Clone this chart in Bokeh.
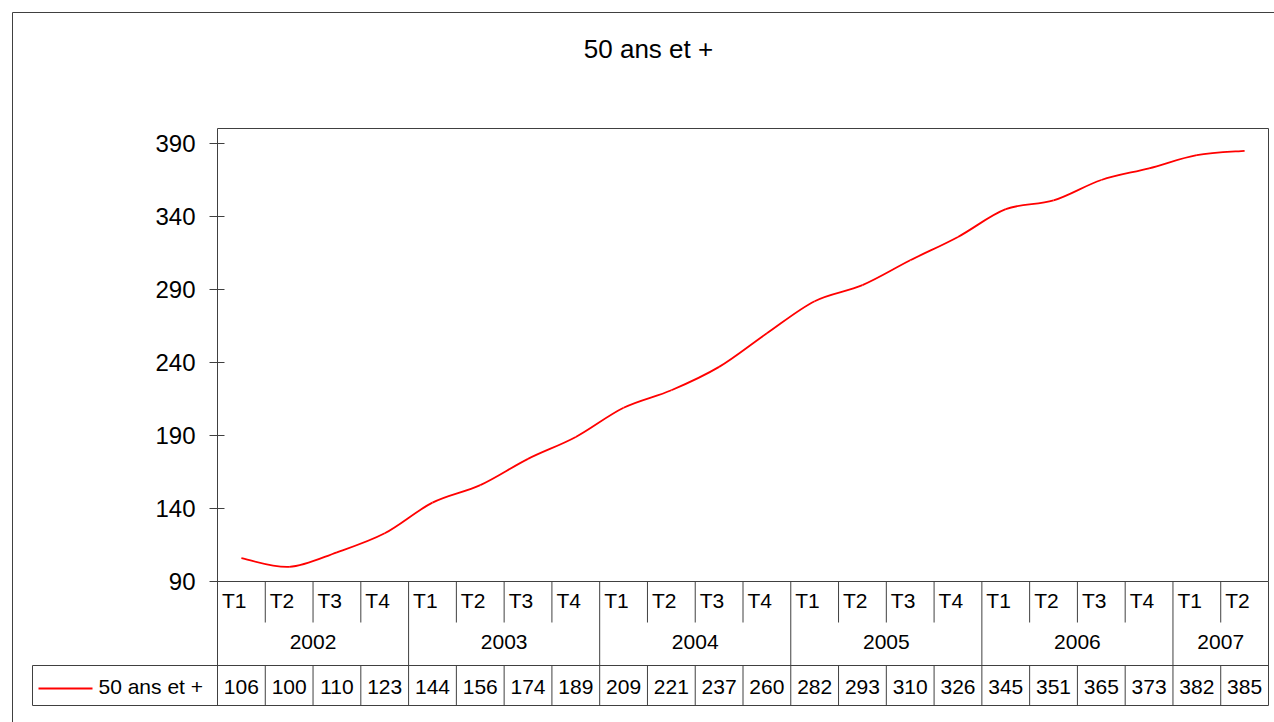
import numpy as np
from bokeh.plotting import figure
from bokeh.models import Range1d, ColumnDataSource
from bokeh.core.properties import value
from bokeh.embed import file_html
from bokeh.resources import INLINE

# ---------------- data ----------------
title_text = "50 ans et +"
series_name = "50 ans et +"
years = ["2002", "2003", "2004", "2005", "2006", "2007"]
quarters_per_year = [4, 4, 4, 4, 4, 2]
quarter_labels = ["T1", "T2", "T3", "T4"] * 5 + ["T1", "T2"]
values = [106, 100, 110, 123, 144, 156, 174, 189, 209, 221, 237,
          260, 282, 293, 310, 326, 345, 351, 365, 373, 382, 385]
y_ticks = [90, 140, 190, 240, 290, 340, 390]

# ---------------- layout (page pixels) ----------------
FONT = "Liberation Sans"
W, H = 1274, 722
PL, PR, PT, PB = 217, 1268, 128, 581          # plot area
N = len(values)
YMIN = 90
YMAX = YMIN + (PB - PT) * 300.0 / (PB - 143)  # 390 sits at 143 px
LINE = "#404040"
RED = "#ff0000"


def xd(px):
    return (px - PL) / (PR - PL) * N


def yd(py):
    return YMIN + (PB - py) / (PB - PT) * (YMAX - YMIN)


# one frame covering the whole canvas; all coordinates go through its scales
p = figure(width=W, height=H, output_backend="svg", toolbar_location=None,
           x_range=Range1d(xd(0), xd(W)), y_range=Range1d(yd(H), yd(0)),
           x_axis_location=None, y_axis_location=None, min_border=0, title=None)
p.grid.visible = False
p.outline_line_color = None
p.background_fill_color = "white"
p.border_fill_color = "white"

# plot area frame
p.quad(left=[0], right=[N], bottom=[YMIN], top=[YMAX],
       fill_color=None, line_color=LINE, line_width=1)

# value axis: ticks + labels
p.segment(x0=[xd(209)] * len(y_ticks), x1=[xd(224)] * len(y_ticks),
          y0=y_ticks, y1=y_ticks, line_color=LINE, line_width=1)
p.text(x=[xd(195)] * len(y_ticks), y=y_ticks, text=[str(t) for t in y_ticks],
       text_align="right", text_baseline="middle", text_font=value(FONT),
       text_font_size=value("24px"), text_color="black")

# title
p.text(x=[xd(648)], y=[yd(48)], text=[title_text], text_align="center",
       text_baseline="middle", text_font=value(FONT),
       text_font_size=value("26px"), text_color="black")

# ---------------- smoothed series (Bezier through the quarterly points) ----------------
x = np.arange(N) + 0.5
y = np.array(values, dtype=float)
xp = np.concatenate([[x[0]], x, [x[-1]]])
yp = np.concatenate([[y[0]], y, [y[-1]]])
seg = ColumnDataSource(dict(
    x0=x[:-1], y0=y[:-1], x1=x[1:], y1=y[1:],
    cx0=x[:-1] + (xp[2:-1] - xp[0:-3]) / 6.0,
    cy0=y[:-1] + (yp[2:-1] - yp[0:-3]) / 6.0,
    cx1=x[1:] - (xp[3:] - xp[1:-2]) / 6.0,
    cy1=y[1:] - (yp[3:] - yp[1:-2]) / 6.0,
))
p.bezier(x0="x0", y0="y0", x1="x1", y1="y1", cx0="cx0", cy0="cy0",
         cx1="cx1", cy1="cy1", source=seg, line_color=RED, line_width=1.8)

# ---------------- data table ----------------
year_starts = [int(v) for v in np.cumsum([0] + quarters_per_year)]
lines = dict(x0=[], y0=[], x1=[], y1=[])


def add(a, b, c, d):
    lines["x0"].append(a)
    lines["y0"].append(b)
    lines["x1"].append(c)
    lines["y1"].append(d)


for k in range(0, N + 1):
    if k in year_starts:
        add(k, yd(581), k, yd(705))
    else:
        add(k, yd(581), k, yd(622))
        add(k, yd(665), k, yd(705))
add(xd(32), yd(665), N, yd(665))
add(xd(32), yd(705), N, yd(705))
add(xd(32), yd(665), xd(32), yd(705))
# outer chart area border
add(xd(12), yd(12), xd(12), yd(H + 5))
add(xd(12), yd(12), xd(W + 5), yd(12))
p.segment(x0="x0", y0="y0", x1="x1", y1="y1", source=ColumnDataSource(lines),
          line_color=LINE, line_width=1)

# legend key
p.segment(x0=[xd(38)], y0=[yd(688)], x1=[xd(92)], y1=[yd(688)],
          line_color=RED, line_width=1.8)
p.text(x=[xd(98)], y=[yd(686)], text=[series_name], text_align="left",
       text_baseline="middle", text_font=value(FONT),
       text_font_size=value("21px"), text_color="black")

qw = (PR - PL) / N
p.text(x=[i + 4.5 / qw for i in range(N)], y=[yd(600)] * N, text=quarter_labels,
       text_align="left", text_baseline="middle", text_font=value(FONT),
       text_font_size=value("21px"), text_color="black")

centers = [year_starts[i] + n / 2.0 for i, n in enumerate(quarters_per_year)]
p.text(x=centers, y=[yd(641)] * len(years), text=years,
       text_align="center", text_baseline="middle", text_font=value(FONT),
       text_font_size=value("21px"), text_color="black")

p.text(x=list(x), y=[yd(686)] * N, text=[str(v) for v in values],
       text_align="center", text_baseline="middle", text_font=value(FONT),
       text_font_size=value("21px"), text_color="black")

open("out.html", "w").write(file_html(p, INLINE))
